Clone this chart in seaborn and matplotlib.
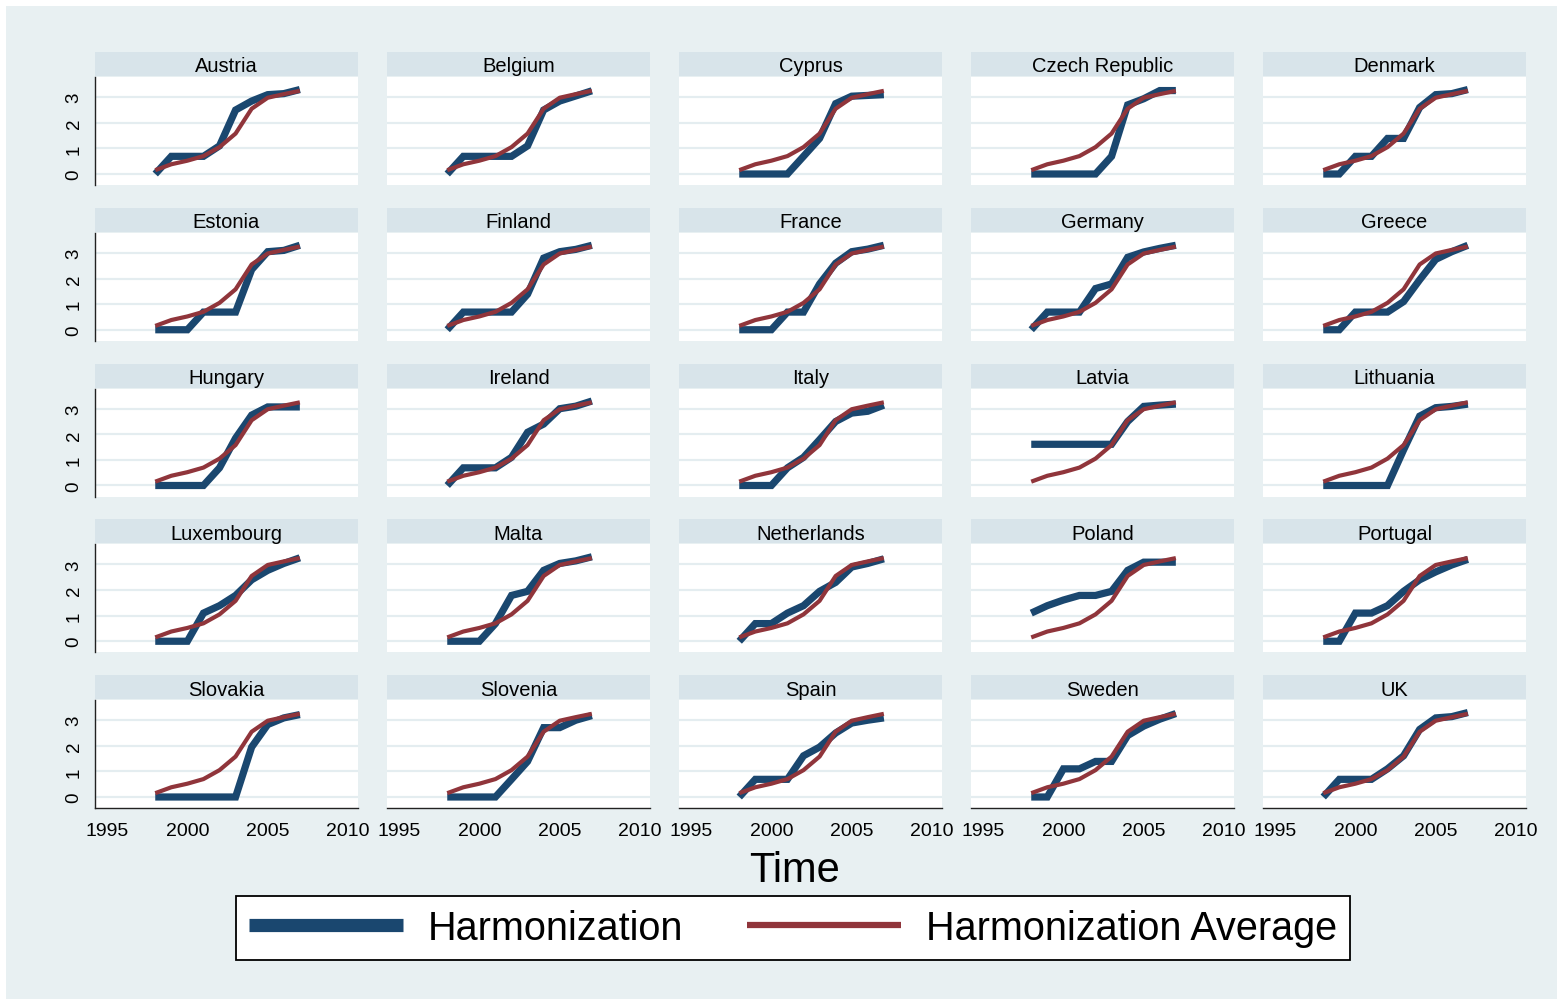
import pandas as pd
import seaborn as sns
import matplotlib.pyplot as plt
from matplotlib.patches import Rectangle
from matplotlib.lines import Line2D

years = [1998, 1999, 2000, 2001, 2002, 2003, 2004, 2005, 2006, 2007]

# common average path (red line)
harm_avg = [0.15, 0.38, 0.52, 0.70, 1.05, 1.58, 2.55, 2.98, 3.12, 3.25]

# country series (blue line)
austria = [0, 0.69, 0.69, 0.69, 1.10, 2.50, 2.85, 3.10, 3.14, 3.30]
belgium = [0, 0.69, 0.69, 0.69, 0.69, 1.10, 2.50, 2.85, 3.05, 3.25]
cyprus = [0, 0, 0, 0, 0.69, 1.39, 2.75, 3.04, 3.07, 3.10]
czech = [0, 0, 0, 0, 0, 0.69, 2.70, 2.94, 3.26, 3.26]
denmark = [0, 0, 0.69, 0.69, 1.39, 1.39, 2.60, 3.10, 3.14, 3.30]
estonia = [0, 0, 0, 0.69, 0.69, 0.69, 2.35, 3.05, 3.10, 3.30]
finland = [0, 0.69, 0.69, 0.69, 0.69, 1.39, 2.80, 3.05, 3.14, 3.30]
france = [0, 0, 0, 0.69, 0.69, 1.79, 2.60, 3.05, 3.15, 3.30]
germany = [0, 0.69, 0.69, 0.69, 1.61, 1.79, 2.83, 3.04, 3.18, 3.30]
greece = [0, 0, 0.69, 0.69, 0.69, 1.10, 1.95, 2.75, 3.05, 3.30]
hungary = [0, 0, 0, 0, 0.69, 1.85, 2.75, 3.07, 3.07, 3.07]
ireland = [0, 0.69, 0.69, 0.69, 1.10, 2.08, 2.40, 3.00, 3.10, 3.30]
italy = [0, 0, 0, 0.69, 1.10, 1.79, 2.50, 2.83, 2.90, 3.14]
latvia = [1.61, 1.61, 1.61, 1.61, 1.61, 1.61, 2.50, 3.09, 3.14, 3.18]
lithuania = [0, 0, 0, 0, 0, 1.39, 2.71, 3.04, 3.09, 3.18]
luxembourg = [0, 0, 0, 1.10, 1.39, 1.79, 2.40, 2.77, 3.04, 3.26]
malta = [0, 0, 0, 0.69, 1.79, 1.95, 2.77, 3.04, 3.14, 3.30]
netherlands = [0, 0.69, 0.69, 1.10, 1.39, 1.95, 2.30, 2.90, 3.04, 3.22]
poland = [1.10, 1.39, 1.61, 1.79, 1.79, 1.95, 2.77, 3.09, 3.09, 3.09]
portugal = [0, 0, 1.10, 1.10, 1.39, 1.95, 2.40, 2.71, 2.98, 3.20]
slovakia = [0, 0, 0, 0, 0, 0, 1.95, 2.83, 3.09, 3.22]
slovenia = [0, 0, 0, 0, 0.69, 1.39, 2.71, 2.71, 3.00, 3.18]
spain = [0, 0.69, 0.69, 0.69, 1.61, 1.95, 2.50, 2.89, 3.00, 3.09]
sweden = [0, 0, 1.10, 1.10, 1.39, 1.39, 2.40, 2.77, 3.04, 3.26]
uk = [0, 0.69, 0.69, 0.69, 1.10, 1.61, 2.64, 3.09, 3.14, 3.30]

countries = ['Austria', 'Belgium', 'Cyprus', 'Czech Republic', 'Denmark',
             'Estonia', 'Finland', 'France', 'Germany', 'Greece',
             'Hungary', 'Ireland', 'Italy', 'Latvia', 'Lithuania',
             'Luxembourg', 'Malta', 'Netherlands', 'Poland', 'Portugal',
             'Slovakia', 'Slovenia', 'Spain', 'Sweden', 'UK']
series = [austria, belgium, cyprus, czech, denmark,
          estonia, finland, france, germany, greece,
          hungary, ireland, italy, latvia, lithuania,
          luxembourg, malta, netherlands, poland, portugal,
          slovakia, slovenia, spain, sweden, uk]

x_ticks = [1995, 2000, 2005, 2010]
y_ticks = [0, 1, 2, 3]

rows = []
for name, vals in zip(countries, series):
    for yr, v, a in zip(years, vals, harm_avg):
        rows.append({'country': name, 'year': yr, 'harm': v, 'harm_avg': a})
df = pd.DataFrame(rows)

BLUE = '#1a476f'
RED = '#90353b'
BG = '#e8f0f2'
STRIP = '#d8e4ea'
GRID = '#e4edf0'

sns.set_style("white")
plt.rcParams['font.family'] = ['Liberation Sans', 'DejaVu Sans']
plt.rcParams['text.color'] = 'black'
plt.rcParams['xtick.color'] = 'black'
plt.rcParams['ytick.color'] = 'black'

W, H = 1564, 1003
fig = plt.figure(figsize=(W / 100, H / 100), dpi=100)
fig.patch.set_facecolor('white')
fig.add_artist(Rectangle((6 / W, 3 / H), 1551 / W, 993 / H, transform=fig.transFigure,
                         facecolor=BG, edgecolor='none', zorder=-10))

ax_w, ax_h = 263, 108
for i, name in enumerate(countries):
    r, c = divmod(i, 5)
    left = 95 + c * 292
    bottom = 186 + r * 155.75
    ax = fig.add_axes([left / W, 1 - bottom / H, ax_w / W, ax_h / H])
    ax.set_facecolor('white')
    sub = df[df['country'] == name]
    sns.lineplot(data=sub, x='year', y='harm', ax=ax, color=BLUE, linewidth=5.2,
                 solid_capstyle='butt', solid_joinstyle='miter')
    sns.lineplot(data=sub, x='year', y='harm_avg', ax=ax, color=RED, linewidth=3,
                 solid_capstyle='butt')
    ax.set_xlim(1994.25, 2010.62)
    ax.set_ylim(-0.43, 3.79)
    ax.set_xticks(x_ticks)
    ax.set_yticks(y_ticks)
    ax.grid(axis='y', color=GRID, linewidth=1.6)
    ax.grid(axis='x', visible=False)
    ax.set_axisbelow(True)
    ax.set_xlabel('')
    ax.set_ylabel('')
    for s in ax.spines.values():
        s.set_visible(False)
    if c == 0:
        ax.spines['left'].set_visible(True)
        ax.spines['left'].set_color('#222222')
        ax.spines['left'].set_linewidth(1.0)
        ax.tick_params(axis='y', length=6, width=1, color='#444444', labelsize=13.5, pad=3)
        for lab in ax.get_yticklabels():
            lab.set_rotation(90)
            lab.set_va('center')
    else:
        ax.tick_params(axis='y', left=False, labelleft=False)
    if r == 4:
        ax.spines['bottom'].set_visible(True)
        ax.spines['bottom'].set_color('#222222')
        ax.spines['bottom'].set_linewidth(1.0)
        ax.tick_params(axis='x', length=6, width=1, color='#444444', labelsize=14, pad=4)
    else:
        ax.tick_params(axis='x', bottom=False, labelbottom=False)
    # strip header
    gap = 1 / ax_h
    sh = 24 / ax_h
    ax.add_patch(Rectangle((0, 1 + gap), 1, sh, transform=ax.transAxes,
                           facecolor=STRIP, edgecolor='none', clip_on=False))
    ax.text(0.5, 1 + gap + sh / 2, name, transform=ax.transAxes, ha='center',
            va='center_baseline', fontsize=14.5, color='black')

fig.text(795 / W, 1 - 866 / H, 'Time', ha='center', va='center_baseline', fontsize=30)

handles = [Line2D([], [], color=BLUE, linewidth=9.5, solid_capstyle='butt'),
           Line2D([], [], color=RED, linewidth=4.5, solid_capstyle='butt')]
leg = fig.legend(handles, ['Harmonization', 'Harmonization Average'],
                 loc='center', bbox_to_anchor=(793 / W, 1 - 929 / H), ncol=2,
                 fontsize=28.5, frameon=True, fancybox=False, handlelength=3.9,
                 handletextpad=0.63, columnspacing=1.6, borderpad=0.33,
                 borderaxespad=0)
leg.get_frame().set_edgecolor('black')
leg.get_frame().set_linewidth(1.3)
leg.get_frame().set_facecolor('white')
leg.get_frame().set_alpha(1)

fig.savefig('out.png', dpi=100, facecolor=fig.get_facecolor())
